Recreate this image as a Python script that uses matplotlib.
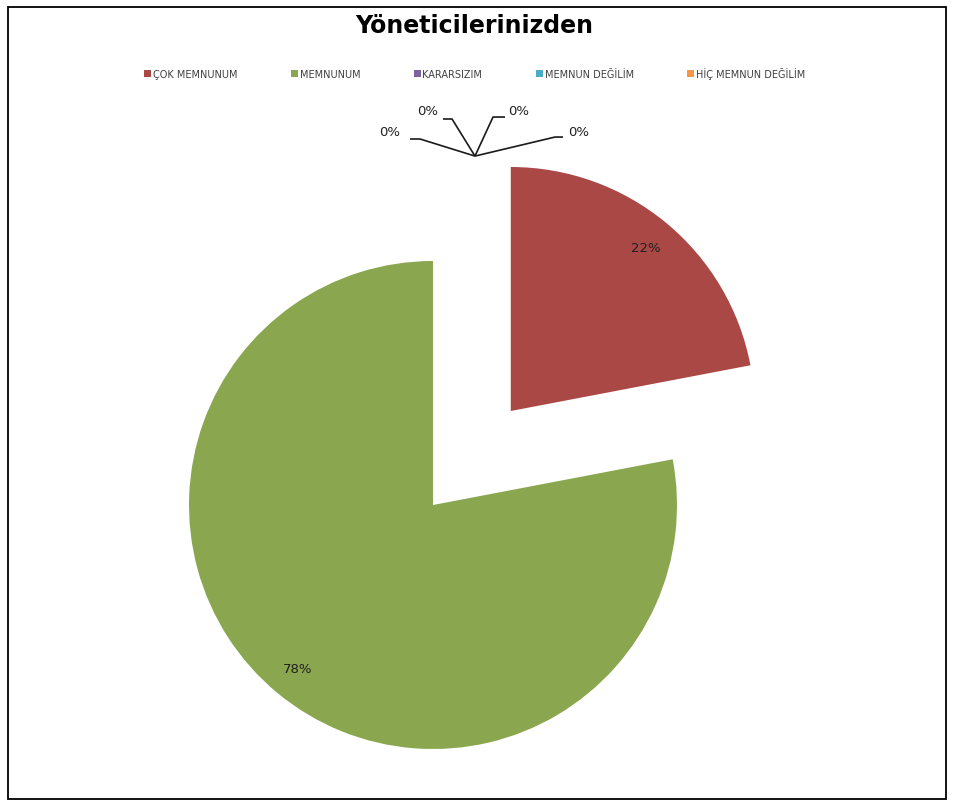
import matplotlib
matplotlib.use("Agg")
import matplotlib.pyplot as plt
from matplotlib.patches import Rectangle

# Veriler
categories = ["ÇOK MEMNUNUM", "MEMNUNUM", "KARARSIZIM", "MEMNUN DEĞİLİM", "HİÇ MEMNUN DEĞİLİM", ""]
values = [22, 78, 0, 0, 0, 0]
colors = ["#AA4846", "#8AA64F", "#7D60A0", "#4BACC6", "#F79646", "#2C4D75"]
explode = [0.5, 0, 0, 0, 0, 0]

# 0% etiketleri icin ofsetler (ortak noktadan)
zero_text = [(-0.35, 0.10), (-0.196, 0.185), (0.177, 0.185), (0.423, 0.10)]
zero_elbow = [(-0.225, 0.07), (-0.094, 0.152), (0.074, 0.16), (0.328, 0.078)]
zero_end = [(-0.266, 0.07), (-0.131, 0.152), (0.123, 0.16), (0.361, 0.078)]

W, H = 955, 803
fig = plt.figure(figsize=(W / 100, H / 100), dpi=100)

# pie merkezi (433,506) px, yaricap 244 px
R = 244
cx, cy = 433, 506
xl, xr, yb, yt = -1.1, 1.6, -1.1, 1.65
ax = fig.add_axes([(cx + xl * R) / W, (H - (cy - yb * R)) / H, (xr - xl) * R / W, (yt - yb) * R / H])

def pct(p):
    return "%d%%" % round(p) if p > 0 else ""

wedges, texts, autotexts = ax.pie(values, colors=colors, explode=explode, startangle=90,
                                  counterclock=False, autopct=pct, pctdistance=0.87,
                                  wedgeprops=dict(linewidth=0), radius=1, center=(0, 0),
                                  textprops=dict(fontsize=9.5, color="#202020"))
ax.set_xlim(xl, xr)
ax.set_ylim(yb, yt)
ax.set_aspect("equal")
ax.axis("off")

# sifir dilimlerin etiketleri
anchor = (0.172, 1.430)
for (tx, ty), (ex, ey), (nx, ny) in zip(zero_text, zero_elbow, zero_end):
    ax.plot([anchor[0], anchor[0] + ex, anchor[0] + nx], [anchor[1], anchor[1] + ey, anchor[1] + ny],
            color="#1a1a1a", lw=1.2, solid_capstyle="butt")
    ax.text(anchor[0] + tx, anchor[1] + ty, "0%", fontsize=9.5, color="#202020", ha="center", va="center")

fig.text(0.497, 0.968, "Yöneticilerinizden", fontsize=17, fontweight="bold", ha="center", va="center")

leg = fig.legend(wedges[:5], categories[:5], loc="center", bbox_to_anchor=(0.497, 0.908), ncol=5,
                 frameon=False, fontsize=7, handlelength=0.7, handleheight=0.7, handletextpad=0.2,
                 columnspacing=5.5)
for t in leg.get_texts():
    t.set_color("#404040")

fig.patches.append(Rectangle((8 / W, 3 / H), 938 / W, 792 / H, transform=fig.transFigure,
                             fill=False, edgecolor="black", lw=1.3))

fig.savefig("out.png", dpi=100)
